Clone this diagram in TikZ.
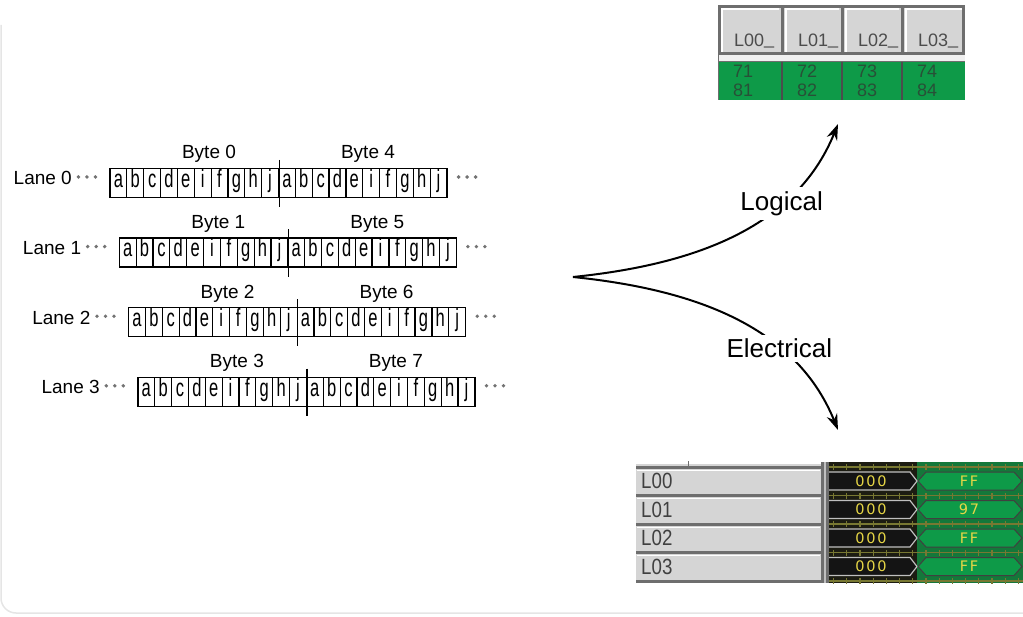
\documentclass[tikz,border=0pt]{standalone}
\usepackage{fontspec}
\setmainfont{Liberation Sans}
\newfontfamily\narrowfont[FakeStretch=0.66]{Liberation Sans}
\newfontfamily\guifont[FakeStretch=0.85]{Liberation Sans}
\newfontfamily\busfont[LetterSpace=12]{DejaVu Sans}
\usetikzlibrary{arrows.meta,calc}
\definecolor{wavegreen}{RGB}{14,154,72}
\definecolor{wavebg}{RGB}{20,120,58}
\definecolor{busdark}{RGB}{28,28,18}
\definecolor{gridolive}{RGB}{120,120,50}
\definecolor{panelgray}{RGB}{213,213,213}
\definecolor{paneledge}{RGB}{110,110,110}
\definecolor{numgreen}{RGB}{40,80,55}
\definecolor{busyellow}{RGB}{230,214,70}

\begin{document}
\begin{tikzpicture}[x=1pt, y=-1pt,
		lanecell/.style={draw, line width=1.2pt, minimum width=16.85pt, minimum height=29pt, inner sep=0pt, text height=13.5pt, text depth=5pt, font=\narrowfont\fontsize{25}{25}\selectfont},
		lanelabel/.style={anchor=base east, inner sep=0pt, font=\fontsize{19}{19}\selectfont},
		bytelabel/.style={anchor=base, inner sep=0pt, font=\fontsize{19}{19}\selectfont},
		lanedot/.style={fill=black!55},
		flow/.style={line width=2pt, -{Stealth[length=16pt, width=11pt]}},
		viewlabel/.style={fill=white, inner sep=4pt, font=\fontsize{26}{26}\selectfont},
		hdrtext/.style={anchor=base west, inner sep=0pt, text=black!70, font=\fontsize{18}{18}\selectfont},
		numtext/.style={anchor=north west, inner sep=0pt, align=left, text=numgreen, font=\fontsize{18}{18.5}\selectfont},
		rowtext/.style={anchor=west, inner sep=0pt, text=black!75, font=\guifont\fontsize{22}{22}\selectfont},
		bustext/.style={inner sep=0pt, text=busyellow, font=\busfont\fontsize{14.5}{14.5}\selectfont}
		]
		\useasboundingbox (0,0) rectangle (1023,617);
		\draw[black!10, line width=1.5pt, rounded corners=15pt] (1,25) -- (1,613) -- (1023,613);
		
		% lanes
		\foreach \l in {0,...,3} {
			\pgfmathsetmacro{\xo}{110+9.3*\l}
			\pgfmathsetmacro{\yo}{183+69.6*\l}
			\pgfmathtruncatemacro{\hi}{\l+4}
			\foreach \c [count=\k from 0] in {a,b,c,d,e,i,f,g,h,j,a,b,c,d,e,i,f,g,h,j}
				\node (cell-\l-\k) at (\xo+16.85*\k+8.425,\yo) [lanecell] {\c};
			\draw[line width=1.2pt] ([yshift=8pt]cell-\l-9.north east) -- ([yshift=-9pt]cell-\l-9.south east);
			\node (byte-\l) at (\xo+99,\yo-24) [bytelabel] {Byte \l};
			\node (byte-\hi) at (\xo+258,\yo-24) [bytelabel] {Byte \hi};
			\node (lane-\l) at (\xo-38,\yo+2) [lanelabel] {Lane \l};
			\foreach \d in {14,22.5,31}
				\fill[lanedot] ([xshift=-\d pt, yshift=6pt]cell-\l-0.west) circle (1.9pt);
			\foreach \d in {11,19.5,28}
				\fill[lanedot] ([xshift=\d pt, yshift=6pt]cell-\l-19.east) circle (1.9pt);
		}
		
		% the two views
		\coordinate (fork) at (573,277);
		\coordinate (logtip) at (838,124);
		\coordinate (eltip) at (838,430);
		\draw[flow] (fork) .. controls (690,265) and (795,230) .. (logtip) node[viewlabel, pos=0.69] (logical) {Logical};
		\draw[flow] (fork) .. controls (690,289) and (795,324) .. (eltip) node[viewlabel, pos=0.68] (electrical) {Electrical};
		
		% logical view
		\fill[panelgray] (718,5) rectangle (965,55);
		\foreach \xa/\xb in {718/782, 782/842, 842/902, 902/965}
			\draw[white, line width=1.2pt] (\xa+4,52) -- (\xa+4,9) -- (\xb-3,9);
		\draw[paneledge, line width=3pt] (719.5,6.5) rectangle (963.5,54);
		\foreach \x in {782,842,902}
			\draw[paneledge, line width=3pt] (\x,5) -- (\x,55);
		\fill[black!6] (718,55.5) rectangle (965,62);
		\draw[paneledge, line width=1.2pt] (718,62) -- (965,62);
		\fill[wavegreen] (718,62) rectangle (965,100);
		\draw[paneledge, line width=1.5pt] (718.5,55) -- (718.5,100);
		\foreach \x in {782,842,902}
			\draw[black!70, line width=1.2pt] (\x,62) -- (\x,100);
		\foreach \xa [count=\i from 0] in {718,782,842,902} {
			\pgfmathtruncatemacro{\j}{\i+1}
			\node (hdr-\i) at (\xa+16,46.5) [hdrtext] {L0\i\raisebox{2pt}{\_}};
			\node (num-\i) at (\xa+15,65) [numtext] {7\j\\8\j};
		}
		
		% electrical view
		\fill[panelgray] (636,464) rectangle (821,582);
		\foreach \r in {0,...,3}
			\draw[white, line width=1pt] (637,470+28.5*\r) -- (820,470+28.5*\r);
		\foreach \r in {0,...,4}
			\draw[paneledge, line width=3pt] (636,467+28.5*\r) -- (821,467+28.5*\r);
		\draw[paneledge, line width=1pt] (688,466) -- (688,461);
		\fill[paneledge] (821,462) rectangle (829,583);
		\draw[black!25, line width=1.5pt] (825,462) -- (825,583);
		\fill[busdark] (829,462) rectangle (1023,583);
		\fill[wavebg] (917,462) rectangle (1023,583);
		\foreach \r in {0,...,4} {
			\draw[gridolive, line width=1.5pt] (829,467+28.5*\r) -- (1023,467+28.5*\r);
			\draw[gridolive, line width=6pt, dash pattern=on 1.2pt off 12pt] (833,467+28.5*\r) -- (1023,467+28.5*\r);
		}
		\foreach \v [count=\r from 0] in {FF,97,FF,FF} {
			\pgfmathsetmacro{\y}{481+28.5*\r}
			\fill[black!92] (829,\y-9) -- (910,\y-9) -- (917,\y) -- (910,\y+9) -- (829,\y+9) -- cycle;
			\draw[black!25, line width=1.2pt] (829,\y-9) -- (910,\y-9) -- (917,\y) -- (910,\y+9) -- (829,\y+9);
			\filldraw[fill=wavegreen, draw=black!75, line width=1pt] (918,\y) -- (926,\y-9) -- (1014,\y-9) -- (1022,\y) -- (1014,\y+9) -- (926,\y+9) -- cycle;
			\node (row-\r) at (641,\y) [rowtext] {L0\r};
			\node (old-\r) at (871,\y) [bustext] {000};
			\node (new-\r) at (969,\y) [bustext] {\v};
		}
	\end{tikzpicture}
\end{document}
